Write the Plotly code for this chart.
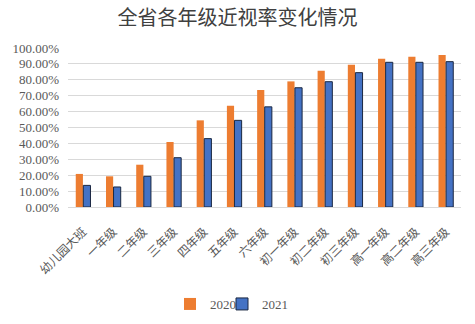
import plotly.graph_objects as go

categories = ["幼儿园大班", "一年级", "二年级", "三年级", "四年级", "五年级", "六年级",
              "初一年级", "初二年级", "初三年级", "高一年级", "高二年级", "高三年级"]
values_2020 = [0.208, 0.193, 0.266, 0.409, 0.545, 0.637, 0.736, 0.790, 0.857, 0.895, 0.933, 0.945, 0.956]
values_2021 = [0.136, 0.126, 0.193, 0.310, 0.430, 0.545, 0.630, 0.750, 0.788, 0.845, 0.910, 0.910, 0.914]

fig = go.Figure()
fig.add_trace(go.Bar(name="2020", x=categories, y=values_2020, legend="legend",
                     marker=dict(color="#ED7D31", line=dict(width=0))))
fig.add_trace(go.Bar(name="2021", x=categories, y=values_2021, legend="legend2",
                     marker=dict(color="#4472C4", line=dict(color="#1a2740", width=1))))

W, H = 475, 324
legend_font = dict(family="Liberation Serif", size=13, color="#595959")
fig.update_layout(
    width=W, height=H,
    margin=dict(l=66, r=14, t=48, b=117),
    paper_bgcolor="white", plot_bgcolor="white",
    barmode="group", bargap=0.5, bargroupgap=0.05,
    title=dict(text="全省各年级近视率变化情况", x=0.5, xanchor="center", y=0.945, yanchor="middle",
               font=dict(family="Noto Sans CJK SC", size=20, color="#404040")),
    font=dict(family="Noto Sans CJK SC", color="#595959"),
    legend=dict(orientation="h", xref="container", yref="container",
                x=170 / W, xanchor="left", y=1 - 304 / H, yanchor="middle",
                font=legend_font, itemwidth=30, bgcolor="rgba(0,0,0,0)"),
    legend2=dict(orientation="h", xref="container", yref="container",
                 x=222 / W, xanchor="left", y=1 - 304 / H, yanchor="middle",
                 font=legend_font, itemwidth=30, bgcolor="rgba(0,0,0,0)"),
    showlegend=True,
)
fig.update_yaxes(range=[0, 1.0], dtick=0.1, tickformat=".2%",
                 showgrid=True, gridcolor="#d9d9d9", gridwidth=1,
                 zeroline=False, showline=False, ticks="", ticklabelstandoff=8,
                 tickfont=dict(family="Liberation Serif", size=13, color="#595959"))
fig.update_xaxes(tickangle=-45, showline=True, linecolor="#d9d9d9", ticks="",
                 ticklabelstandoff=12, automargin=False,
                 tickfont=dict(family="Noto Sans CJK SC", size=12, color="#595959"))

fig.write_html("out.html")
